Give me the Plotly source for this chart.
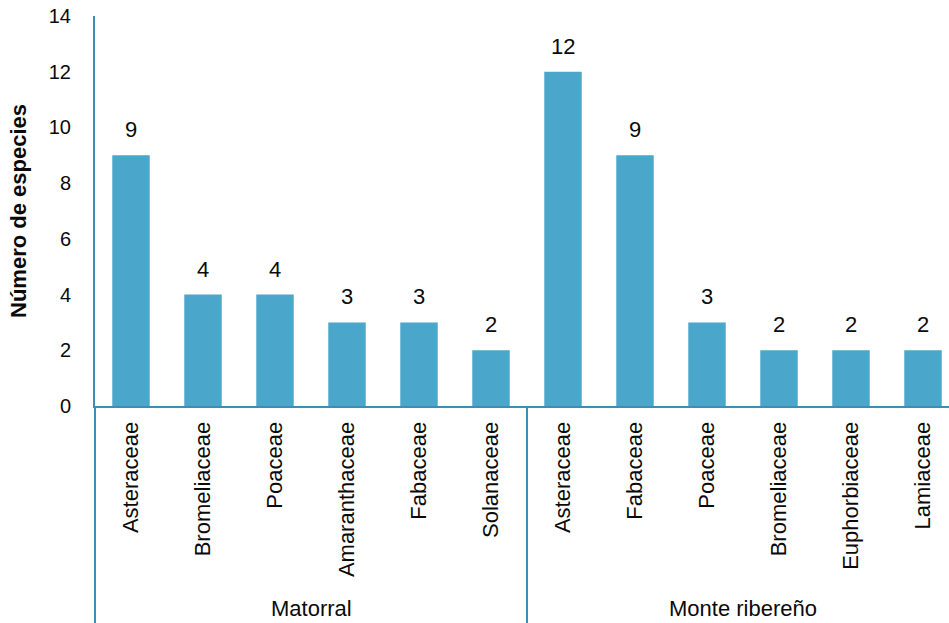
import plotly.graph_objects as go

# Species counts per plant family, grouped by vegetation unit
groups = ["Matorral", "Monte ribereño"]
matorral_families = ["Asteraceae", "Bromeliaceae", "Poaceae", "Amaranthaceae", "Fabaceae", "Solanaceae"]
matorral_counts = [9, 4, 4, 3, 3, 2]
monte_families = ["Asteraceae", "Fabaceae", "Poaceae", "Bromeliaceae", "Euphorbiaceae", "Lamiaceae"]
monte_counts = [12, 9, 3, 2, 2, 2]
y_ticks = [0, 2, 4, 6, 8, 10, 12, 14]

families = matorral_families + monte_families
counts = matorral_counts + monte_counts
positions = list(range(len(families)))
group_sizes = [len(matorral_families), len(monte_families)]

BAR = "#4AA6CA"
LINE = "#3F8DB0"
TEXT = "#0a0a0a"
FONT = "Liberation Sans, Arial, sans-serif"

W, H = 949, 623
ML, MR, MT, MB = 95, 0, 16, 217
cat_px = 72.0
x_min = -0.5
x_max = x_min + (W - ML - MR) / cat_px

fig = go.Figure(
    go.Bar(
        x=positions,
        y=counts,
        marker=dict(color=BAR, line=dict(width=0)),
        width=0.52,
        hoverinfo="skip",
    )
)

# Value labels above each bar
for xi, v in zip(positions, counts):
    fig.add_annotation(
        x=xi, y=v, text=str(v), showarrow=False,
        yanchor="bottom", yshift=11,
        font=dict(family=FONT, size=22, color=TEXT),
    )

def xpaper(v):
    return (v - x_min) / (x_max - x_min)

# Group separators below the axis and group names
start = 0
bottom = -0.62
for name, n in zip(groups, group_sizes):
    left = start - 0.5
    right = start + n - 0.5
    fig.add_shape(
        type="line", xref="paper", yref="paper",
        x0=xpaper(left), x1=xpaper(left), y0=0, y1=bottom,
        line=dict(color=LINE, width=2),
    )
    fig.add_annotation(
        x=(left + right) / 2, y=-0.52, xref="x", yref="paper",
        text=name, showarrow=False, yanchor="middle", xanchor="center",
        font=dict(family=FONT, size=22, color=TEXT),
    )
    start += n

fig.update_layout(
    width=W, height=H,
    margin=dict(l=ML, r=MR, t=MT, b=MB, pad=0),
    paper_bgcolor="white", plot_bgcolor="white",
    showlegend=False,
    font=dict(family=FONT, color=TEXT),
    xaxis=dict(
        range=[x_min, x_max],
        tickmode="array", tickvals=positions, ticktext=families,
        tickangle=-90, ticks="", showgrid=False, zeroline=False,
        showline=True, linecolor=LINE, linewidth=2,
        tickfont=dict(family=FONT, size=22, color=TEXT),
        ticklabelstandoff=5, fixedrange=True,
    ),
    yaxis=dict(
        range=[0, 14], tickmode="array", tickvals=y_ticks,
        ticks="", showgrid=False, zeroline=False,
        showline=True, linecolor=LINE, linewidth=2,
        tickfont=dict(family=FONT, size=20, color=TEXT),
        ticklabelstandoff=18,
        title=dict(text="<b>Número de especies</b>", standoff=16,
                   font=dict(family=FONT, size=22, color=TEXT)),
        fixedrange=True,
    ),
)

fig.write_html("out.html")
